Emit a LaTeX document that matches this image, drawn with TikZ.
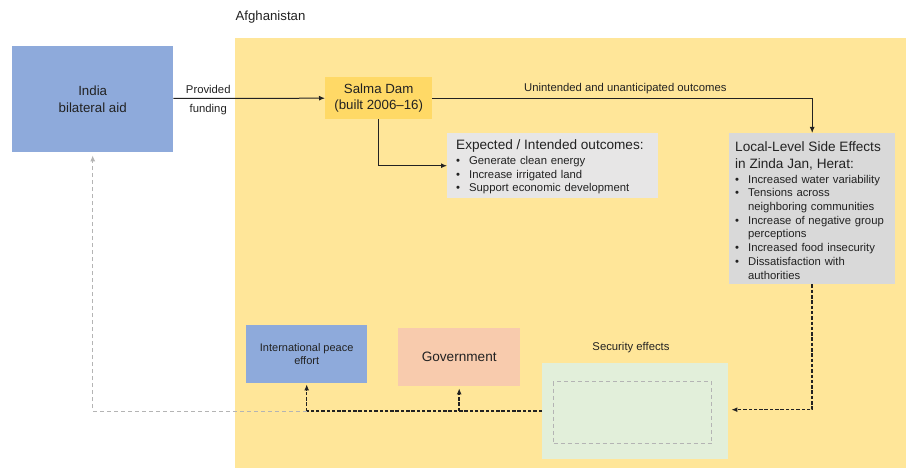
\documentclass[tikz,border=0pt]{standalone}
\usepackage{fontspec}
\setmainfont{Liberation Sans}
\usetikzlibrary{arrows.meta}
\definecolor{afgyellow}{HTML}{FFE699}
\definecolor{aidblue}{HTML}{8EAADB}
\definecolor{damgold}{HTML}{FFD966}
\definecolor{expgray}{HTML}{E7E6E6}
\definecolor{locgray}{HTML}{D9D9D9}
\definecolor{govpeach}{HTML}{F8CBAD}
\definecolor{secgreen}{HTML}{E2EFDA}
\definecolor{linegray}{HTML}{B4B4B4}
\definecolor{txt}{HTML}{222222}
\newcommand{\fsmall}{\fontsize{11.3}{13.7}\selectfont}
\newcommand{\fbig}{\fontsize{13.6}{16.7}\selectfont}
\tikzset{
  box/.style={rectangle, inner sep=0pt, anchor=north west, text=txt},
  lbl/.style={text=txt, inner sep=0pt, font=\fsmall},
  solidarr/.style={draw=txt, line width=1pt, -{Latex[length=6pt,width=5pt]}},
  dasharr/.style={draw=txt, line width=1.5pt, dash pattern=on 3.5pt off 1.8pt, -{Latex[length=6pt,width=5pt]}},
  dashline/.style={draw=txt, line width=1.5pt, dash pattern=on 3.5pt off 1.8pt},
  grayarr/.style={draw=linegray, line width=1pt, dash pattern=on 4pt off 3pt, -{Latex[length=6pt,width=5pt]}},
}
\begin{document}
\begin{tikzpicture}[x=1pt, y=-1pt]
\useasboundingbox (0,0) rectangle (906,468);
\fill[white] (0,0) rectangle (906,468);
% Afghanistan region
\node[box, fill=afgyellow, minimum width=671pt, minimum height=430pt] (afg) at (235,38) {};
\node[lbl, font=\fontsize{13.2}{15}\selectfont] (afglabel) at (270.5,17) {Afghanistan};
% India
\node[box, fill=aidblue, minimum width=161pt, minimum height=106pt, align=center, font=\fontsize{13.3}{17}\selectfont] (india) at (12,46) {India\\bilateral aid};
% Salma Dam
\node[box, fill=damgold, minimum width=107pt, minimum height=42pt, align=center, font=\fontsize{13.3}{16}\selectfont] (salma) at (325,77) {Salma Dam\\(built 2006--16)};
% Expected outcomes
\node[box, fill=expgray, minimum height=65pt, text width=193pt, inner xsep=9pt, align=left, font=\fsmall] (expected) at (447,133) {%
\begin{tabular}{@{}l@{\hspace{9pt}}l@{}}
\multicolumn{2}{@{}l@{}}{\rule{0pt}{14pt}\fbig Expected / Intended outcomes:}\\[1.3pt]
\textbullet & Generate clean energy\\
\textbullet & Increase irrigated land\\
\textbullet & Support economic development
\end{tabular}};
% Local-level side effects
\node[box, fill=locgray, minimum height=151pt, text width=154pt, inner xsep=6pt, align=left, font=\fsmall] (local) at (729,133) {%
\begin{tabular}{@{}l@{\hspace{9pt}}l@{}}
\multicolumn{2}{@{}l@{}}{\rule{0pt}{17pt}\fbig Local-Level Side Effects}\\[3pt]
\multicolumn{2}{@{}l@{}}{\fbig in Zinda Jan, Herat:}\\[1.3pt]
\textbullet & Increased water variability\\
\textbullet & Tensions across\\
 & neighboring communities\\
\textbullet & Increase of negative group\\
 & perceptions\\
\textbullet & Increased food insecurity\\
\textbullet & Dissatisfaction with\\
 & authorities
\end{tabular}};
% International peace effort
\node[box, fill=aidblue, minimum width=121pt, minimum height=58pt, align=center, font=\fontsize{11}{13}\selectfont] (intl) at (246,325) {International peace\\effort};
% Government
\node[box, fill=govpeach, minimum width=122pt, minimum height=58pt, font=\fbig] (gov) at (398,328) {Government};
% Security effects
\node[lbl] (seclabel) at (631,348) {Security effects};
\node[box, fill=secgreen, minimum width=186pt, minimum height=96pt] (green) at (542,363) {};
\node[box, draw=linegray, line width=1pt, dash pattern=on 4pt off 3pt, minimum width=158pt, minimum height=62pt] (inner) at (553,381) {};
% connectors
\draw[solidarr] (india.east |- 0,98.5) -- (salma.west)
  node[lbl, pos=0.23, above=4pt] (prov) {Provided}
  node[lbl, pos=0.23, below=5pt] (fund) {funding};
\draw[solidarr] (salma.east) -| (local.north)
  node[lbl, pos=0.254, above=4pt] (unint) {Unintended and unanticipated outcomes};
\draw[solidarr] (salma.south) |- (expected.west);
\draw[dasharr] (local.south) |- ([xshift=3pt, yshift=1.5pt]green.east);
\coordinate (split) at (intl.south |- green.west);
\draw[grayarr, shorten >=3pt] (split) -| (india.south);
\draw[dashline] (green.west) -- (split);
\draw[dasharr, shorten >=1pt] (split) -- (intl.south);
\draw[dasharr, shorten >=2pt] (gov.south |- green.west) -- (gov.south);
\end{tikzpicture}
\end{document}
